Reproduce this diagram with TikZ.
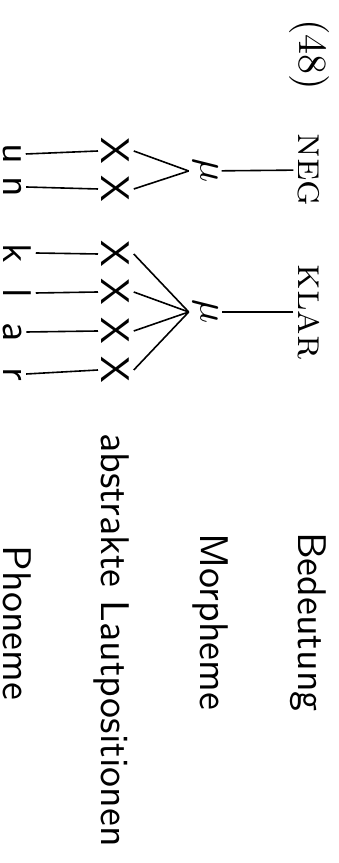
\documentclass[tikz,border=0pt]{standalone}
\usepackage{tikz}

\begin{document}
\begin{tikzpicture}[x=0.25pt,y=-0.25pt,rotate=-90,
every node/.style={rotate=-90,inner sep=0.8pt,anchor=base},
slot/.style={font=\sffamily},
phon/.style={font=\sffamily},
tier/.style={font=\sffamily}]
\useasboundingbox (0,0) rectangle (863,339);
% Bedeutung
\node (nr) at (55,40) {(48)};
\node (neg) at (170,41) {\textsc{neg}};
\node (klar) at (312,41) {\textsc{klar}};
\node[tier] (bed) at (622,41) {Bedeutung};
% Morpheme
\node (mu1) at (171,138.5) {$\mu$};
\node (mu2) at (312,138.5) {$\mu$};
\node[tier] (mor) at (622,138.5) {Morpheme};
% abstrakte Lautpositionen
\foreach \n/\x in {1/151,2/189,3/254,4/292,5/331,6/370}
  \node[slot] (x\n) at (\x,237) {X};
\node[tier] (lp) at (640,237) {abstrakte Lautpositionen};
% Phoneme
\foreach \n/\p/\x in {1/u/154,2/n/187,3/k/253,4/l/293,5/a/332,6/r/374}
  \node[phon] (p\n) at (\x,335) {\p};
\node[tier] (pho) at (623,335) {Phoneme};
% Assoziationslinien
\draw (neg) -- (mu1);
\draw (klar) -- (mu2);
\foreach \n in {1,2} \draw (x\n.north) -- (mu1.south);
\foreach \n in {3,...,6} \draw (x\n.north) -- (mu2.south);
\foreach \n in {1,...,6} \draw (x\n.south) -- (p\n.north);
\end{tikzpicture}
\end{document}
